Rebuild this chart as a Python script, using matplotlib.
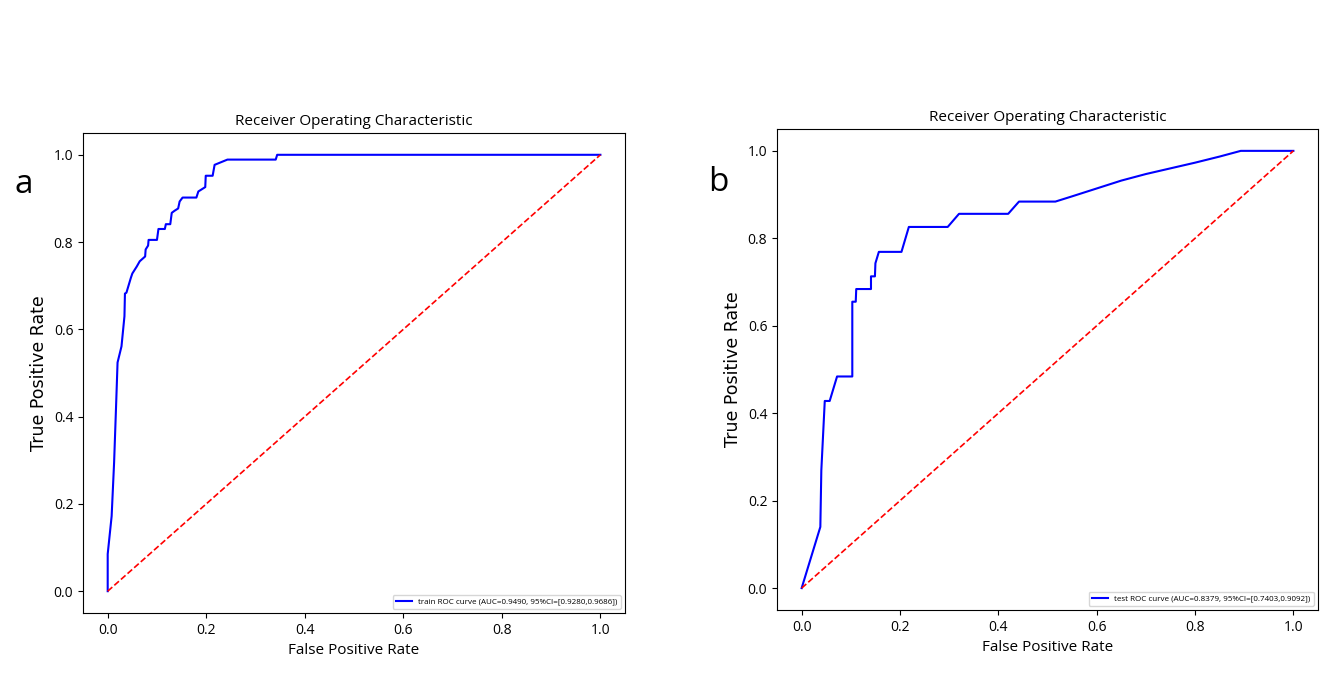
import matplotlib.pyplot as plt

plt.rcParams['font.family'] = ['Open Sans', 'DejaVu Sans']

# training set ROC points
train_fpr = [0.0, 0.0, 0.008, 0.013, 0.017, 0.020, 0.028, 0.034, 0.035, 0.038,
             0.047, 0.050, 0.059, 0.065, 0.076, 0.077, 0.082, 0.083, 0.100,
             0.103, 0.116, 0.118, 0.127, 0.130, 0.136, 0.143, 0.146, 0.152,
             0.180, 0.184, 0.198, 0.199, 0.213, 0.217, 0.243, 0.341, 0.344, 1.0]
train_tpr = [0.0, 0.085, 0.172, 0.295, 0.424, 0.524, 0.561, 0.630, 0.682, 0.684,
             0.718, 0.728, 0.744, 0.756, 0.767, 0.783, 0.792, 0.805, 0.805,
             0.830, 0.830, 0.841, 0.841, 0.867, 0.872, 0.877, 0.893, 0.902,
             0.902, 0.916, 0.926, 0.952, 0.952, 0.977, 0.989, 0.989, 1.0, 1.0]

# test set ROC points
test_fpr = [0.0, 0.038, 0.040, 0.047, 0.057, 0.072, 0.103, 0.103, 0.110, 0.111,
            0.141, 0.141, 0.149, 0.150, 0.157, 0.203, 0.218, 0.297, 0.320,
            0.420, 0.442, 0.516, 0.55, 0.60, 0.65, 0.70, 0.75, 0.80, 0.85,
            0.893, 1.0]
test_tpr = [0.0, 0.140, 0.269, 0.428, 0.428, 0.484, 0.484, 0.655, 0.655, 0.684,
            0.684, 0.713, 0.713, 0.743, 0.769, 0.769, 0.826, 0.826, 0.856,
            0.856, 0.884, 0.884, 0.896, 0.914, 0.932, 0.947, 0.960, 0.973, 0.987,
            1.0, 1.0]

train_label = 'train ROC curve (AUC=0.9490, 95%CI=[0.9280,0.9686])'
test_label = 'test ROC curve (AUC=0.8379, 95%CI=[0.7403,0.9092])'

fig = plt.figure(figsize=(13.29, 6.74), dpi=100)
ax1 = fig.add_axes([0.0625, 0.0905, 0.4078, 0.7122])
ax2 = fig.add_axes([0.5847, 0.095, 0.407, 0.7136])

panels = [(ax1, train_fpr, train_tpr, train_label, 'a', 0.011, 0.713),
          (ax2, test_fpr, test_tpr, test_label, 'b', 0.533, 0.717)]

for ax, fpr, tpr, lab, letter, lx, ly in panels:
    ax.plot(fpr, tpr, color='blue', lw=1.5, label=lab)
    ax.plot([0, 1], [0, 1], color='red', ls='--', lw=1.2)
    ax.set_title('Receiver Operating Characteristic', fontsize=11)
    ax.set_xlabel('False Positive Rate', fontsize=11)
    ax.set_ylabel('True Positive Rate', fontsize=12.5, family='DejaVu Sans')
    ax.tick_params(labelsize=10)
    ax.legend(loc='lower right', fontsize=5.8)
    fig.text(lx, ly, letter, fontsize=24)

fig.savefig('out.png', dpi=100)
